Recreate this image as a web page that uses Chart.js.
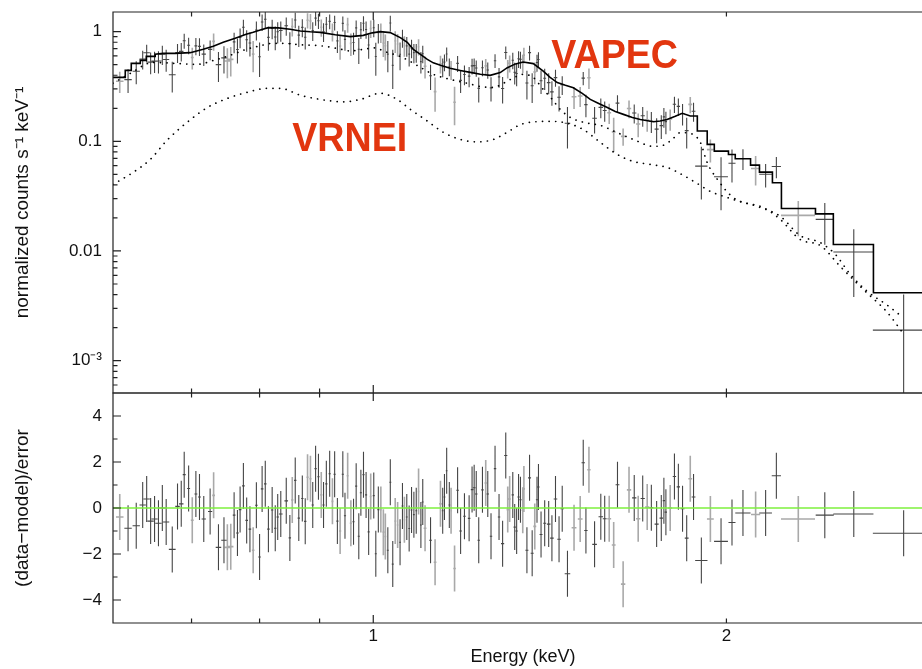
<!DOCTYPE html>
<html>
<head>
<meta charset="utf-8">
<script src="https://cdn.jsdelivr.net/npm/chart.js@4.4.1/dist/chart.umd.min.js"></script>
<style>
  html, body { margin: 0; padding: 0; background: #fff; overflow: hidden; }
  #wrap { position: relative; width: 922px; height: 669px; overflow: hidden; }
  canvas { position: absolute; left: 0; }
  #spec { top: 0; }
  #resid { top: 380px; }
</style>
</head>
<body>
<div id="wrap">
  <canvas id="spec" width="933" height="400"></canvas>
  <canvas id="resid" width="933" height="289"></canvas>
</div>
<script>
// spectral bins (keV), half bin width, rate, rate error, residual, light grey = second spectrum
const energy = [
  .608,.618,.628,.636,.641,.646,.651,.656,.661,.666,
  .674,.681,.686,.690,.696,.701,.706,.711,.717,.726,
  .731,.738,.746,.751,.756,.761,.766,.770,.775,.780,
  .785,.790,.795,.800,.804,.809,.814,.820,.825,.829,
  .834,.843,.849,.853,.858,.864,.870,.875,.879,.884,
  .888,.893,.898,.903,.907,.912,.918,.923,.927,.932,
  .937,.942,.946,.951,.957,.962,.967,.972,.976,.981,
  .986,.991,.995,1.001,1.005,1.010,1.015,1.020,1.024,1.029,
  1.034,1.039,1.044,1.049,1.054,1.059,1.063,1.068,1.073,1.078,
  1.083,1.088,1.093,1.098,1.102,1.107,1.119,1.129,1.141,1.146,
  1.150,1.155,1.161,1.165,1.173,1.180,1.187,1.196,1.207,1.214,
  1.219,1.224,1.230,1.239,1.247,1.252,1.260,1.270,1.280,1.289,
  1.297,1.302,1.307,1.315,1.320,1.325,1.330,1.335,1.341,1.344,
  1.352,1.359,1.366,1.373,1.379,1.383,1.390,1.400,1.411,1.420,
  1.430,1.440,1.449,1.464,1.483,1.501,1.510,1.518,1.527,1.544,
  1.563,1.575,1.589,1.603,1.615,1.633,1.652,1.669,1.682,1.697,
  1.712,1.726,1.744,1.760,1.769,1.776,1.791,1.806,1.820,1.835,
  1.850,1.863,1.875,1.904,1.938,1.979,2.022,2.066,2.118,2.160,
  2.206,2.303,2.426,2.568,2.832
];
const binHalf = [
  .0045,.0045,.0045,.004,.004,.004,.004,.004,.004,.004,
  .0045,.003,.003,.002,.002,.002,.002,.002,.003,.003,
  .002,.004,.004,.004,.004,.002,.002,.002,.002,.002,
  .002,.002,.002,.002,.002,.002,.002,.002,.002,.002,
  .003,.003,.002,.002,.002,.002,.002,.002,.002,.002,
  .002,.002,.002,.002,.002,.002,.002,.002,.002,.002,
  .002,.002,.002,.002,.002,.002,.002,.002,.002,.002,
  .002,.002,.002,.002,.002,.002,.002,.002,.002,.002,
  .002,.002,.002,.002,.002,.002,.002,.002,.002,.002,
  .002,.002,.002,.002,.002,.003,.003,.003,.003,.002,
  .002,.002,.002,.002,.003,.003,.003,.003,.003,.003,
  .003,.003,.003,.003,.003,.003,.003,.003,.003,.004,
  .004,.003,.003,.003,.003,.003,.003,.003,.003,.003,
  .004,.004,.004,.004,.003,.003,.004,.004,.005,.005,
  .005,.005,.005,.008,.007,.007,.005,.005,.005,.007,
  .007,.006,.006,.006,.006,.007,.007,.007,.007,.007,
  .007,.007,.007,.006,.004,.004,.007,.006,.006,.007,
  .007,.007,.007,.023,.013,.027,.014,.031,.019,.027,
  .020,.077,.043,.101,.166
];
const rate = [
  .353,.365,.435,.561,.641,.527,.538,.539,.621,.557,
  .405,.645,.661,.826,.751,.581,.741,.734,.624,.689,
  .815,.500,.576,.540,.558,.807,.688,.887,1.097,.843,
  .787,.623,1.034,.591,1.224,1.295,.887,1.067,.894,.998,
  1.024,1.131,.777,1.113,1.277,.930,1.093,.888,1.268,1.249,
  1.021,1.329,1.255,1.095,1.000,1.168,1.240,1.000,1.212,.824,
  .738,1.188,.850,1.159,.781,.796,1.083,.690,1.041,1.193,
  1.047,.756,1.067,1.086,.593,.976,.986,.786,.744,.623,
  1.200,.492,.824,.771,.621,.875,.749,.741,.623,.708,
  .643,.645,.728,.533,.630,.483,.396,.284,.510,.477,
  .527,.625,.480,.451,.227,.513,.359,.407,.393,.487,
  .490,.466,.304,.468,.487,.447,.307,.543,.387,.303,
  .646,.463,.515,.549,.425,.415,.565,.558,.517,.611,
  .340,.644,.321,.428,.523,.557,.356,.376,.343,.282,
  .381,.252,.328,.146,.255,.259,.377,.216,.380,.162,
  .204,.191,.182,.122,.223,.111,.199,.181,.144,.171,
  .156,.152,.129,.139,.167,.151,.160,.218,.208,.179,
  .125,.217,.188,.0594,.084,.0475,.063,.0698,.0565,.050,
  .059,.0211,.0194,.0098,.0019
];
const rateErr = [
  .077,.089,.103,.109,.119,.119,.119,.124,.124,.127,
  .127,.127,.128,.128,.128,.13,.132,.134,.138,.142,
  .147,.152,.16,.164,.168,.172,.176,.18,.184,.189,
  .193,.197,.202,.206,.21,.214,.218,.217,.217,.217,
  .216,.213,.21,.208,.206,.204,.202,.201,.2,.199,
  .199,.198,.197,.197,.195,.193,.191,.189,.187,.186,
  .185,.184,.182,.181,.18,.181,.182,.183,.184,.185,
  .188,.191,.194,.196,.197,.198,.2,.199,.198,.197,
  .196,.192,.186,.181,.177,.163,.158,.152,.143,.137,
  .129,.125,.122,.118,.114,.11,.103,.098,.094,.093,
  .092,.091,.089,.088,.087,.085,.084,.083,.082,.08,
  .08,.079,.078,.077,.077,.076,.076,.078,.079,.082,
  .086,.089,.091,.094,.096,.097,.098,.099,.1,.1,
  .099,.098,.097,.096,.093,.09,.086,.082,.075,.071,
  .067,.065,.063,.06,.058,.054,.052,.05,.08,.044,
  .042,.04,.038,.042,.04,.02,.037,.036,.035,.035,
  .034,.033,.033,.034,.034,.035,.035,.037,.038,.04,
  .039,.037,.037,.03,.02,.024,.021,.015,.017,.012,
  .013,.0075,.008,.006,.0021
];
const resid = [
  -.39,-.88,-.77,.13,.39,-.57,-.48,-.66,0,-.61,
  -1.8,.07,.18,1.45,.85,-.53,.61,.48,-.48,-.15,
  .55,-1.71,-1.4,-1.71,-1.68,-.31,-1.09,-.07,.96,-.54,
  -.92,-1.84,.12,-2.13,.83,1.05,-.92,-.09,-.88,-.39,
  -.26,.31,-1.3,.35,1.2,-.44,.41,-.58,1.34,1.27,
  .13,1.71,1.36,.57,.13,1.05,1.49,.29,1.47,-.57,
  -1,1.47,-.34,1.4,-.66,-.6,.95,-1.23,.66,1.45,
  .57,-1.04,.5,.54,-1.99,-.07,-.07,-1.05,-1.24,-1.84,
  1.12,-2.44,-.57,-.74,-1.49,.09,-.51,-.39,-.89,-.09,
  -.29,-.12,.72,-.74,.26,-.88,-1.4,-2.36,.18,-.12,
  .48,1.62,.13,-.12,-2.63,.77,-1,-.36,-.45,.8,
  .88,.61,-1.4,.79,1.09,.61,-1.23,1.71,-.39,-1.55,
  2.28,-.07,.39,.57,-.83,-1,.48,.36,-.1,.83,
  -1.84,1.31,-1.97,-.8,.36,.91,-1.15,-.66,-.7,-1.31,
  .39,-1.36,-.03,-2.86,-.86,-.48,1.97,-.98,1.66,-1.58,
  -.38,-.47,-.47,-1.61,1.01,-3.31,.79,.44,-.47,.41,
  .04,.01,-.7,-.44,.32,-.18,0,1.37,.92,-.03,
  -1.31,1.27,.48,-2.28,-.48,-1.45,-.63,-.22,-.28,-.22,
  1.4,-.48,-.31,-.26,-1.1
];
const faint = [
  1,0,0,0,0,0,0,0,0,0,
  0,0,0,0,0,1,0,0,0,0,
  1,0,0,1,1,0,0,0,0,0,
  0,1,0,0,0,0,0,0,0,0,
  0,0,0,1,0,0,0,0,1,1,
  0,0,0,1,0,0,0,1,0,0,
  1,0,0,1,1,0,0,0,0,0,
  0,0,1,0,0,0,1,1,1,0,
  0,0,1,1,0,0,1,0,0,0,
  0,0,1,0,0,1,0,1,1,0,
  0,0,0,1,1,0,0,0,0,0,
  0,0,0,0,1,0,0,0,0,0,
  0,1,1,0,0,0,0,0,1,1,
  0,0,0,1,0,0,0,0,0,0,
  0,0,0,0,1,1,0,0,1,0,
  0,0,1,1,0,1,1,0,1,0,
  1,0,0,0,0,0,1,0,0,0,
  0,1,0,0,1,0,0,0,1,0,
  0,1,0,0,0
];

// folded total model (histogram), and the two components
const modelE = [
  0.600,0.6146,0.6146,0.6219,0.6219,0.633,0.633,0.6405,0.6405,0.6518,
  0.6518,0.6622,0.6778,0.6982,0.7163,0.7305,0.7449,0.7627,0.7792,0.7901,
  0.8011,0.8138,0.8299,0.8496,0.8666,0.8837,0.9012,0.9282,0.9559,0.9806,
  0.998,1.0138,1.0339,1.0544,1.069,1.0817,1.097,1.112,1.125,1.141,
  1.163,1.186,1.210,1.234,1.258,1.283,1.301,1.322,1.342,1.369,
  1.396,1.415,1.435,1.458,1.481,1.507,1.531,1.555,1.583,1.608,
  1.634,1.663,1.689,1.733,1.756,1.780,1.809,1.834,1.863,1.889,
  1.889,1.926,1.926,1.953,1.953,2.008,2.008,2.035,2.035,2.097,
  2.097,2.134,2.134,2.189,2.189,2.228,2.228,2.382,2.382,2.467,
  2.467,2.669,2.669,3.0
];
const modelRate = [
  .383,.383,.443,.443,.514,.514,.547,.547,.595,.595,
  .621,.634,.634,.643,.690,.734,.799,.869,.945,.985,
  1.034,1.088,1.083,1.05,1.013,.996,.985,.935,.900,.925,
  .975,1.0,.979,.882,.799,.690,.621,.559,.519,.493,
  .463,.443,.425,.408,.399,.423,.469,.508,.528,.511,
  .437,.383,.343,.324,.308,.274,.241,.222,.203,.187,
  .176,.165,.158,.151,.153,.158,.169,.180,.170,.170,
  .124,.124,.0937,.0937,.0814,.0814,.0759,.0759,.0694,.0694,
  .0607,.0607,.0524,.0524,.0419,.0419,.0244,.0244,.0218,.0218,
  .01146,.01146,.00416,.00416
];
const vapecE = [
  .600,.621,.649,.678,.708,.731,.755,.779,.801,.820,
  .841,.867,.901,.932,.956,.981,1.0,1.028,1.054,1.075,
  1.097,1.125,1.163,1.203,1.234,1.266,1.291,1.314,1.342,1.369,
  1.396,1.421,1.443,1.472,1.501,1.531,1.561,1.614,1.666,1.733,
  1.767,1.798,1.827,1.863,1.900,1.926,1.965,2.027,2.125,2.223,
  2.312,2.405,2.477,2.551,2.638,2.743,2.825
];
const vapecRate = [
  .338,.417,.524,.513,.503,.547,.608,.689,.743,.782,
  .782,.758,.743,.703,.667,.689,.711,.647,.595,.535,
  .472,.408,.367,.338,.316,.310,.338,.374,.408,.382,
  .297,.241,.196,.165,.152,.145,.140,.120,.104,.090,
  .092,.104,.120,.118,.098,.064,.0449,.0307,.0255,.0207,
  .0138,.0119,.0093,.0061,.00427,.0032,.0025
];
const vrneiE = [
  .600,.624,.6455,.667,.694,.722,.751,.781,.812,.833,
  .867,.901,.943,.975,1.014,1.048,1.075,1.112,1.147,1.186,
  1.227,1.266,1.301,1.335,1.369,1.415,1.464,1.510,1.561,1.614,
  1.666,1.722,1.781,1.838,1.889,1.938,2.004,2.067,2.150,2.223,
  2.312,2.405,2.501,2.617,2.743,2.825
];
const vrneiRate = [
  .0404,.052,.0683,.102,.149,.203,.246,.280,.304,.304,
  .263,.241,.229,.241,.274,.241,.196,.153,.121,.104,
  .0988,.104,.121,.142,.150,.152,.146,.128,.098,.076,
  .0655,.0615,.0577,.0489,.0412,.0349,.0307,.0277,.0249,.0194,
  .0127,.0112,.00722,.00445,.00275,.00181
];

// axes
const xRange = [0.6, 3.0];
const xLabelAt = [1, 2];
const xLabels = ['1', '2'];
const xMajor = [1];
const xMinor = [0.7, 0.8, 0.9, 2];
const yRange = [5.07e-4, 1.51];
const yLabelAt = [0.001, 0.01, 0.1, 1];
const yLabels = ['10\u207B\u00B3', '0.01', '0.1', '1'];
const yMinor = [6e-4, 7e-4, 8e-4, 9e-4, .002, .003, .004, .005, .006, .007, .008, .009,
  .02, .03, .04, .05, .06, .07, .08, .09, .2, .3, .4, .5, .6, .7, .8, .9];
const rRange = [-5, 5];
const rLabelAt = [-4, -2, 0, 2, 4];
const rLabels = ['\u22124', '\u22122', '0', '2', '4'];
const rMinor = [-3, -1, 1, 3];

const notes = [
  { text: 'VAPEC', e: 1.418, v: 0.468 },
  { text: 'VRNEI', e: 0.853, v: 0.0814 }
];

const FONT = '"Liberation Sans", Arial, Helvetica, sans-serif';
const INK = '#111';
const DARK = '#454545';
const LIGHT = '#a9a9a9';

function errorBars(vals, lo, hi, shade) {
  const pts = [];
  energy.forEach((e, i) => {
    if (faint[i] !== shade) return;
    pts.push({ x: e - binHalf[i], y: vals[i] }, { x: e + binHalf[i], y: vals[i] }, { x: e, y: null });
    pts.push({ x: e, y: lo(i) }, { x: e, y: hi(i) }, { x: e, y: null });
  });
  return pts;
}

const pairs = (xs, ys) => xs.map((x, i) => ({ x, y: ys[i] }));
const plain = { pointRadius: 0, pointHoverRadius: 0, fill: false, tension: 0, spanGaps: false };

// the panels are pinned to fixed boxes, so drop the label overhang chart.js reserves
const pinY = s => { s.width = 113; s.paddingTop = 0; s.paddingBottom = 0; };
const pinX = s => { s.height = 46; s.paddingLeft = 0; s.paddingRight = 0; };

function frame(yMaj, yMin) {
  return {
    id: 'frame',
    afterDraw(chart) {
      const { ctx, chartArea: a, scales } = chart;
      const xs = scales.x, ys = scales.y;
      ctx.save();
      ctx.strokeStyle = '#222';
      ctx.lineWidth = 1.2;
      ctx.beginPath();
      ctx.moveTo(a.right, a.top); ctx.lineTo(a.left, a.top);
      ctx.lineTo(a.left, a.bottom); ctx.lineTo(a.right, a.bottom);
      const tick = (x0, y0, dx, dy) => { ctx.moveTo(x0, y0); ctx.lineTo(x0 + dx, y0 + dy); };
      xMajor.forEach(v => { const x = xs.getPixelForValue(v); tick(x, a.top, 0, 8); tick(x, a.bottom, 0, -8); });
      xMinor.forEach(v => { const x = xs.getPixelForValue(v); tick(x, a.top, 0, 4.5); tick(x, a.bottom, 0, -4.5); });
      yMaj.forEach(v => tick(a.left, ys.getPixelForValue(v), 8, 0));
      yMin.forEach(v => tick(a.left, ys.getPixelForValue(v), 4.5, 0));
      ctx.stroke();
      ctx.restore();
    }
  };
}

const labelNotes = {
  id: 'notes',
  afterDatasetsDraw(chart) {
    const { ctx, scales: { x, y } } = chart;
    ctx.save();
    ctx.fillStyle = '#e2360f';
    ctx.font = 'bold 40px ' + FONT;
    ctx.textBaseline = 'alphabetic';
    notes.forEach(n => {
      ctx.save();
      ctx.translate(x.getPixelForValue(n.e), y.getPixelForValue(n.v));
      ctx.scale(0.94, 1);
      ctx.fillText(n.text, 0, 0);
      ctx.restore();
    });
    ctx.restore();
  }
};

const common = {
  animation: false,
  responsive: false,
  maintainAspectRatio: false,
  devicePixelRatio: 1,
  events: [],
  plugins: { legend: { display: false }, tooltip: { enabled: false } }
};

new Chart(document.getElementById('spec'), {
  type: 'line',
  data: {
    datasets: [
      { ...plain, data: pairs(modelE, modelRate), borderColor: '#000', borderWidth: 1.6 },
      { ...plain, data: pairs(vapecE, vapecRate), borderColor: '#000', borderWidth: 1.7,
        borderDash: [0.1, 6.5], borderCapStyle: 'round', cubicInterpolationMode: 'monotone' },
      { ...plain, data: pairs(vrneiE, vrneiRate), borderColor: '#000', borderWidth: 1.7,
        borderDash: [0.1, 6.5], borderCapStyle: 'round', cubicInterpolationMode: 'monotone' },
      { ...plain, data: errorBars(rate, i => Math.max(rate[i] - rateErr[i], 1e-6), i => rate[i] + rateErr[i], 0),
        borderColor: DARK, borderWidth: 1.1 },
      { ...plain, data: errorBars(rate, i => Math.max(rate[i] - rateErr[i], 1e-6), i => rate[i] + rateErr[i], 1),
        borderColor: LIGHT, borderWidth: 1.6 }
    ]
  },
  options: {
    ...common,
    layout: { padding: { top: 12, right: 0, bottom: 7, left: 0 } },
    scales: {
      x: { type: 'logarithmic', min: xRange[0], max: xRange[1], display: false },
      y: {
        type: 'logarithmic', min: yRange[0], max: yRange[1],
        afterBuildTicks: s => { s.ticks = yLabelAt.map(v => ({ value: v })); },
        afterFit: pinY,
        grid: { display: false, drawTicks: false },
        border: { display: false },
        ticks: { autoSkip: false, padding: 11, color: INK, font: { family: FONT, size: 17 },
          callback: (v, i) => yLabels[i] },
        title: { display: true, text: 'normalized counts s\u207B\u00B9 keV\u207B\u00B9', color: INK,
          font: { family: FONT, size: 19 }, padding: { top: 11, bottom: 0 } }
      }
    }
  },
  plugins: [frame(yLabelAt, yMinor), labelNotes]
});

new Chart(document.getElementById('resid'), {
  type: 'line',
  data: {
    datasets: [
      { ...plain, data: [{ x: xRange[0], y: 0 }, { x: xRange[1], y: 0 }], borderColor: '#7ef03e', borderWidth: 1.6 },
      { ...plain, data: errorBars(resid, i => resid[i] - 1, i => resid[i] + 1, 0), borderColor: DARK, borderWidth: 1.1 },
      { ...plain, data: errorBars(resid, i => resid[i] - 1, i => resid[i] + 1, 1), borderColor: LIGHT, borderWidth: 1.6 }
    ]
  },
  options: {
    ...common,
    layout: { padding: { top: 13, right: 0, bottom: 0, left: 0 } },
    scales: {
      x: {
        type: 'logarithmic', min: xRange[0], max: xRange[1],
        afterBuildTicks: s => { s.ticks = xLabelAt.map(v => ({ value: v })); },
        afterFit: pinX,
        grid: { display: false, drawTicks: false },
        border: { display: false },
        ticks: { autoSkip: false, maxRotation: 0, padding: 3.5, color: INK, font: { family: FONT, size: 17 },
          callback: (v, i) => xLabels[i] },
        title: { display: true, text: 'Energy (keV)', color: INK,
          font: { family: FONT, size: 18 }, padding: { top: 0, bottom: 1 } }
      },
      y: {
        type: 'linear', min: rRange[0], max: rRange[1],
        afterBuildTicks: s => { s.ticks = rLabelAt.map(v => ({ value: v })); },
        afterFit: pinY,
        grid: { display: false, drawTicks: false },
        border: { display: false },
        ticks: { autoSkip: false, padding: 11, color: INK, font: { family: FONT, size: 17 },
          callback: (v, i) => rLabels[i] },
        title: { display: true, text: '(data\u2212model)/error', color: INK,
          font: { family: FONT, size: 19 }, padding: { top: 11, bottom: 0 } }
      }
    }
  },
  plugins: [frame(rLabelAt, rMinor)]
});
</script>
</body>
</html>
